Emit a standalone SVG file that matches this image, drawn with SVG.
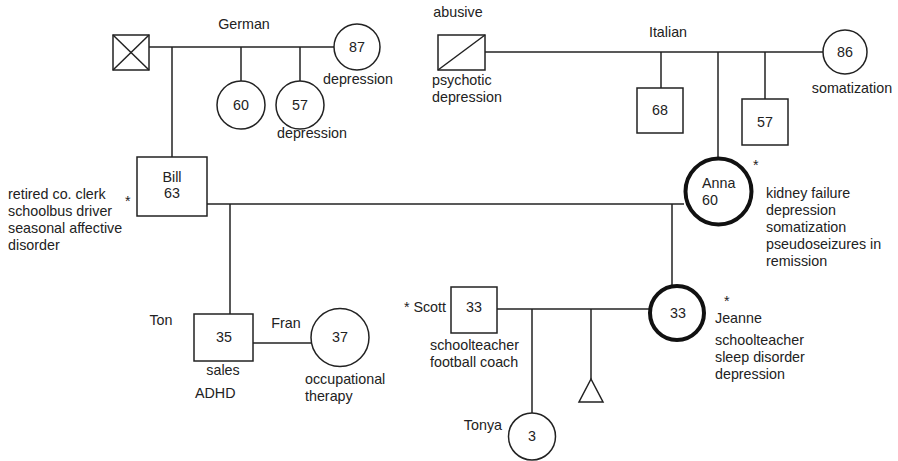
<svg xmlns="http://www.w3.org/2000/svg" width="898" height="461" viewBox="0 0 898 461">
<style>
text{font-family:"Liberation Sans",Arial,sans-serif;font-size:14.3px;fill:#222}
.m{text-anchor:middle}
.e{text-anchor:end}
.s{fill:#fff;stroke:#222;stroke-width:1.5}
.t{fill:#fff;stroke:#111;stroke-width:4}
.c{stroke:#222;stroke-width:1.5;fill:none}
</style>
<g id="connectors" class="c">
<line x1="149" y1="47" x2="334" y2="47"/>
<line x1="172" y1="47" x2="172" y2="157"/>
<line x1="241" y1="47" x2="241" y2="82"/>
<line x1="300" y1="47" x2="300" y2="82"/>
<line x1="485" y1="52" x2="823" y2="52"/>
<line x1="661" y1="52" x2="661" y2="88"/>
<line x1="718" y1="52" x2="718" y2="157"/>
<line x1="765" y1="52" x2="765" y2="99"/>
<line x1="207" y1="204" x2="684" y2="204"/>
<line x1="230" y1="204" x2="230" y2="314"/>
<line x1="672" y1="204" x2="672" y2="285"/>
<line x1="253" y1="343" x2="311" y2="343"/>
<line x1="497" y1="309" x2="649" y2="309"/>
<line x1="532" y1="309" x2="532" y2="413"/>
<line x1="591" y1="309" x2="591" y2="379"/>
</g>
<g id="pgf-german">
<rect class="s" x="113" y="35" width="36" height="35"/>
<line class="c" x1="113" y1="35" x2="149" y2="70"/>
<line class="c" x1="149" y1="35" x2="113" y2="70"/>
<text class="m" x="244" y="29">German</text>
</g>
<g id="pgm-german">
<circle class="s" cx="357" cy="47" r="23"/>
<text class="m" x="357" y="52">87</text>
<text class="m" x="358" y="84">depression</text>
</g>
<g id="aunt-60">
<circle class="s" cx="241" cy="105" r="24"/>
<text class="m" x="241" y="110">60</text>
</g>
<g id="aunt-57">
<circle class="s" cx="300" cy="105" r="24"/>
<text class="m" x="300" y="110">57</text>
<text class="m" x="312" y="138">depression</text>
</g>
<g id="mgf">
<rect class="s" x="438" y="35" width="47" height="35"/>
<line class="c" x1="438" y1="70" x2="485" y2="35"/>
<text class="m" x="458" y="17">abusive</text>
<text x="432" y="85">psychotic</text>
<text x="432" y="102">depression</text>
<text class="m" x="668" y="37">Italian</text>
</g>
<g id="uncle-68">
<rect class="s" x="637" y="88" width="46" height="45"/>
<text class="m" x="660" y="115">68</text>
</g>
<g id="uncle-57">
<rect class="s" x="742" y="99" width="46" height="46"/>
<text class="m" x="765" y="127">57</text>
</g>
<g id="mgm">
<circle class="s" cx="845" cy="52" r="22"/>
<text class="m" x="845" y="57">86</text>
<text class="m" x="852" y="93">somatization</text>
</g>
<g id="bill">
<rect class="s" x="137" y="157" width="70" height="59"/>
<text class="m" x="172" y="182">Bill</text>
<text class="m" x="172" y="198">63</text>
<text x="125" y="206">*</text>
<text x="8" y="199">retired co. clerk</text>
<text x="8" y="216">schoolbus driver</text>
<text x="8" y="233">seasonal affective</text>
<text x="8" y="250">disorder</text>
</g>
<g id="anna">
<circle class="t" cx="718.5" cy="191.5" r="33"/>
<text x="702" y="188">Anna</text>
<text x="702" y="205">60</text>
<text x="753" y="170">*</text>
<text x="766" y="198">kidney failure</text>
<text x="766" y="215">depression</text>
<text x="766" y="232">somatization</text>
<text x="766" y="249">pseudoseizures in</text>
<text x="766" y="266">remission</text>
</g>
<g id="ton">
<rect class="s" x="194" y="314" width="59" height="47"/>
<text class="m" x="224" y="342">35</text>
<text class="m" x="161" y="325">Ton</text>
<text class="m" x="223" y="375">sales</text>
<text x="195" y="398">ADHD</text>
</g>
<g id="fran">
<circle class="s" cx="340" cy="337.5" r="29"/>
<text class="m" x="340" y="342">37</text>
<text class="m" x="286" y="328">Fran</text>
<text x="305" y="384">occupational</text>
<text x="305" y="401">therapy</text>
</g>
<g id="scott">
<rect class="s" x="451" y="287" width="46" height="46"/>
<text class="m" x="474" y="312">33</text>
<text class="e" x="446" y="312">* Scott</text>
<text x="430" y="350">schoolteacher</text>
<text x="430" y="367">football coach</text>
</g>
<g id="jeanne">
<circle class="t" cx="677" cy="313" r="27"/>
<text class="m" x="678" y="318">33</text>
<text x="724" y="306">*</text>
<text x="715" y="323">Jeanne</text>
<text x="715" y="345">schoolteacher</text>
<text x="715" y="362">sleep disorder</text>
<text x="715" y="379">depression</text>
</g>
<g id="tonya">
<circle class="s" cx="532" cy="436.5" r="23.5"/>
<text class="m" x="532" y="441">3</text>
<text class="e" x="502" y="430">Tonya</text>
</g>
<g id="pregnancy">
<polygon class="s" points="591,379 579,402 603,402"/>
</g>
</svg>
